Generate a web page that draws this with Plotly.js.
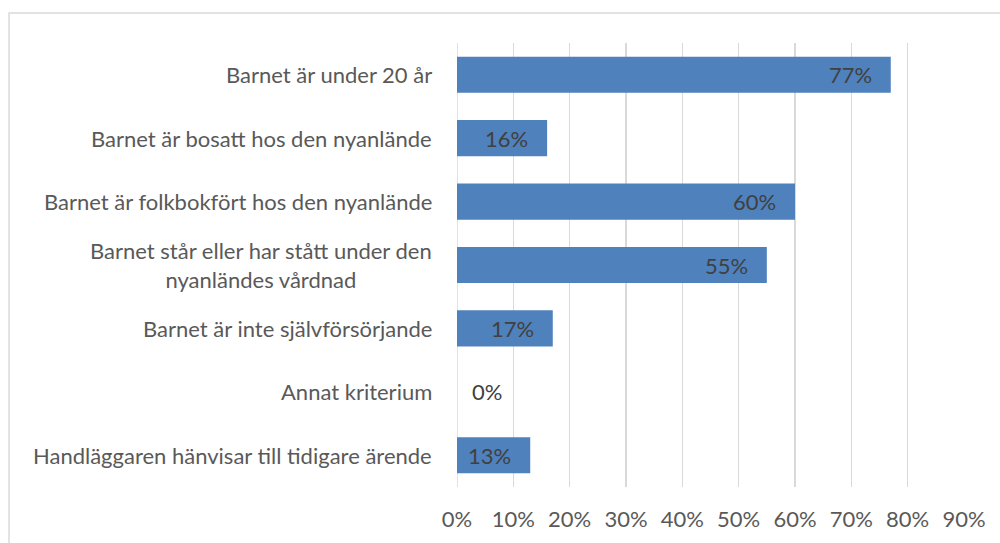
<!DOCTYPE html>
<html><head><meta charset="utf-8">
<script src="https://cdn.plot.ly/plotly-3.0.1.min.js"></script>
<style>html,body{margin:0;padding:0;background:#fff}#c{width:1000px;height:543px}</style>
</head><body><div id="c"></div>
<script>
const categories = [
  "Barnet är under 20 år",
  "Barnet är bosatt hos den nyanlände",
  "Barnet är folkbokfört hos den nyanlände",
  "Barnet står eller har stått under den<br>nyanländes vårdnad",
  "Barnet är inte självförsörjande",
  "Annat kriterium",
  "Handläggaren hänvisar till tidigare ärende"
];
const values = [0.77, 0.16, 0.60, 0.55, 0.17, 0.00, 0.13];
const valueLabels = ["77%", "16%", "60%", "55%", "17%", "0%", "13%"];
const tickVals = [0,0.1,0.2,0.3,0.4,0.5,0.6,0.7,0.8,0.9];
const tickText = ["0%","10%","20%","30%","40%","50%","60%","70%","80%","90%"];

const FONT = "Lato";
const SIZE = 22;
const trace = {
  type: 'bar', orientation: 'h',
  x: values, y: categories,
  marker: {color: '#4f81bd', line: {width: 0}},
  cliponaxis: false,
  hoverinfo: 'none'
};
const catAnn = categories.map(c => ({
  xref: 'paper', yref: 'y', x: 0, y: c, xanchor: 'right', yanchor: 'middle',
  xshift: -23, text: c, showarrow: false, align: 'center',
  font: {family: FONT, size: SIZE, color: '#595959'}
}));
const valAnn = values.map((v, i) => ({
  xref: 'x', yref: 'y', x: v, y: categories[i],
  xanchor: v > 0 ? 'right' : 'left', yanchor: 'middle',
  xshift: v > 0 ? -17 : 13, text: valueLabels[i], showarrow: false,
  font: {family: FONT, size: SIZE, color: '#404040'}
}));
const layout = {
  width: 1000, height: 543,
  margin: {l: 457, r: 36, t: 43, b: 56},
  paper_bgcolor: '#fff', plot_bgcolor: '#fff',
  showlegend: false,
  bargap: 0.43,
  xaxis: {range: [0, 0.9], tickvals: tickVals, ticktext: tickText,
    showgrid: true, gridcolor: '#d9d9d9', gridwidth: 1.5, zeroline: false,
    showline: false, ticks: '', fixedrange: true, ticklabelstandoff: 17,
    tickfont: {family: FONT, size: SIZE, color: '#595959'}},
  yaxis: {type: 'category', autorange: 'reversed', showticklabels: false,
    showgrid: false, zeroline: false, showline: false, ticks: '', fixedrange: true},
  annotations: catAnn.concat(valAnn),
  shapes: [
    {type: 'line', xref: 'x', yref: 'paper', x0: 0, x1: 0, y0: 0, y1: 1,
     line: {color: '#d9d9d9', width: 1.5}, layer: 'below'},
    {type: 'rect', xref: 'paper', yref: 'paper', x0: -0.8836, x1: 2, y0: -1, y1: 1.0676,
     line: {color: '#d9d9d9', width: 1.5}, fillcolor: 'rgba(0,0,0,0)'}
  ]
};
Plotly.newPlot('c', [trace], layout, {displayModeBar: false, staticPlot: true});
</script></body></html>
